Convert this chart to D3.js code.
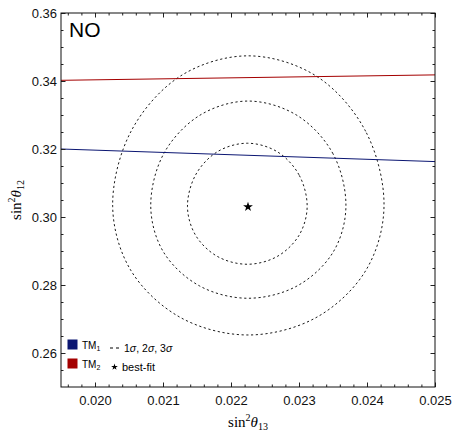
<!DOCTYPE html>
<html>
<head>
<meta charset="utf-8">
<script src="https://cdn.jsdelivr.net/npm/d3@7"></script>
<style>
  body { margin: 0; background: #fff; }
  svg { display: block; }
  .tick text { font-family: "Liberation Sans", Arial, sans-serif; font-size: 13px; fill: #111; }
</style>
</head>
<body>
<div id="chart"></div>
<script>
// axis ticks
const xTicks = [0.020, 0.021, 0.022, 0.023, 0.024, 0.025];
const yTicks = [0.26, 0.28, 0.30, 0.32, 0.34, 0.36];

// TM lines (sin2θ13, sin2θ12), read at the frame edges
const tm1 = [[0.0195, 0.3200], [0.025, 0.3163]];
const tm2 = [[0.0195, 0.3402], [0.025, 0.3418]];

// best-fit point
const bestFit = [0.02225, 0.3030];

// contour points
const sigma1 = [[0.02312, 0.3030], [0.02300, 0.3124], [0.02268, 0.3192], [0.02224, 0.3217], [0.02180, 0.3192], [0.02148, 0.3124],
                [0.02136, 0.3030], [0.02148, 0.2946], [0.02180, 0.2884], [0.02224, 0.2861], [0.02268, 0.2884], [0.02300, 0.2946]];
const sigma2 = [[0.02369, 0.3030], [0.02350, 0.3186], [0.02297, 0.3299], [0.02225, 0.3341], [0.02154, 0.3299], [0.02101, 0.3186],
                [0.02082, 0.3030], [0.02101, 0.2896], [0.02154, 0.2797], [0.02225, 0.2761], [0.02297, 0.2797], [0.02350, 0.2896]];
const sigma3 = [[0.02425, 0.3030], [0.02398, 0.3252], [0.02325, 0.3415], [0.02225, 0.3474], [0.02126, 0.3415], [0.02053, 0.3252],
                [0.02026, 0.3030], [0.02053, 0.2842], [0.02126, 0.2704], [0.02225, 0.2653], [0.02325, 0.2704], [0.02398, 0.2842]];

const width = 455, height = 432;
const margin = {top: 13, right: 20, bottom: 45, left: 61};
const blue = '#0b1672', red = '#a40000';

const svg = d3.select('#chart').append('svg')
  .attr('width', width)
  .attr('height', height);

const x = d3.scaleLinear().domain([0.0195, 0.025]).range([margin.left, width - margin.right]);
const y = d3.scaleLinear().domain([0.25, 0.36]).range([height - margin.bottom, margin.top]);

svg.append('clipPath').attr('id', 'clip')
  .append('rect')
  .attr('x', margin.left).attr('y', margin.top)
  .attr('width', width - margin.left - margin.right)
  .attr('height', height - margin.top - margin.bottom);

const plot = svg.append('g').attr('clip-path', 'url(#clip)');

// contours
const contour = d3.line().x(d => x(d[0])).y(d => y(d[1])).curve(d3.curveCatmullRomClosed.alpha(0.5));
[sigma1, sigma2, sigma3].forEach(pts => {
  plot.append('path')
    .attr('d', contour(pts))
    .attr('fill', 'none')
    .attr('stroke', '#000')
    .attr('stroke-width', 0.9)
    .attr('stroke-dasharray', '2.2,2.6');
});

// TM lines
const line = d3.line().x(d => x(d[0])).y(d => y(d[1]));
plot.append('path').attr('d', line(tm2)).attr('fill', 'none').attr('stroke', red).attr('stroke-width', 1);
plot.append('path').attr('d', line(tm1)).attr('fill', 'none').attr('stroke', blue).attr('stroke-width', 1);

// best fit star
plot.append('path')
  .attr('d', d3.symbol(d3.symbolStar, 30)())
  .attr('transform', `translate(${x(bestFit[0])},${y(bestFit[1])})`)
  .attr('fill', '#000');

// axes: major + minor ticks on all sides, pointing inwards
const xMinor = d3.range(0.0196, 0.02501, 0.0002).filter(v => !xTicks.some(t => Math.abs(t - v) < 1e-6));
const yMinor = d3.range(0.255, 0.3601, 0.005).filter(v => !yTicks.some(t => Math.abs(t - v) < 1e-6));

function drawAxis(axisFn, scale, ticks, minor, transform, labels, pad) {
  const g = svg.append('g').attr('transform', transform);
  g.call(axisFn(scale).tickValues(ticks).tickSize(-4.5).tickPadding(pad)
    .tickFormat(labels ? (axisFn === d3.axisLeft || axisFn === d3.axisRight ? d3.format('.2f') : d3.format('.3f')) : ''));
  g.select('.domain').remove();
  g.selectAll('.tick line').attr('stroke', '#222');
  const gm = svg.append('g').attr('transform', transform);
  gm.call(axisFn(scale).tickValues(minor).tickSize(-2.5).tickFormat(''));
  gm.select('.domain').remove();
  gm.selectAll('.tick line').attr('stroke', '#222');
}

drawAxis(d3.axisBottom, x, xTicks, xMinor, `translate(0,${height - margin.bottom})`, true, 9);
drawAxis(d3.axisTop, x, xTicks, xMinor, `translate(0,${margin.top})`, false, 3);
drawAxis(d3.axisLeft, y, yTicks, yMinor, `translate(${margin.left},0)`, true, 4);
drawAxis(d3.axisRight, y, yTicks, yMinor, `translate(${width - margin.right},0)`, false, 3);

// frame
svg.append('rect')
  .attr('x', margin.left).attr('y', margin.top)
  .attr('width', width - margin.left - margin.right)
  .attr('height', height - margin.top - margin.bottom)
  .attr('fill', 'none')
  .attr('stroke', '#111')
  .attr('stroke-width', 1);

// panel label
svg.append('text')
  .attr('x', 69).attr('y', 37)
  .attr('font-family', '"Liberation Sans", Arial, sans-serif')
  .attr('font-size', 21)
  .text('NO');

// axis titles
const serif = '"Liberation Serif", "Times New Roman", serif';
const xTitle = svg.append('text')
  .attr('x', 248).attr('y', 427)
  .attr('text-anchor', 'middle')
  .attr('font-family', serif)
  .attr('font-size', 15);
xTitle.append('tspan').text('sin');
xTitle.append('tspan').attr('dy', -6).attr('font-size', 10).text('2');
xTitle.append('tspan').attr('dy', 6).attr('font-style', 'italic').text('θ');
xTitle.append('tspan').attr('dy', 3).attr('font-size', 10).text('13');

const yTitle = svg.append('text')
  .attr('transform', 'translate(21,200) rotate(-90)')
  .attr('text-anchor', 'middle')
  .attr('font-family', serif)
  .attr('font-size', 15);
yTitle.append('tspan').text('sin');
yTitle.append('tspan').attr('dy', -6).attr('font-size', 10).text('2');
yTitle.append('tspan').attr('dy', 6).attr('font-style', 'italic').text('θ');
yTitle.append('tspan').attr('dy', 3).attr('font-size', 10).text('12');

// legend
const sans = '"Liberation Sans", Arial, sans-serif';
const legend = svg.append('g').attr('font-family', sans).attr('font-size', 11);
const legendItems = [['TM', '1', blue], ['TM', '2', red]];
legendItems.forEach((d, i) => {
  legend.append('rect')
    .attr('x', 67.5).attr('y', 339.5 + i * 19)
    .attr('width', 10).attr('height', 10)
    .attr('fill', d[2]);
  const t = legend.append('text').attr('x', 82).attr('y', 348.5 + i * 19).attr('font-size', 10);
  t.append('tspan').text(d[0]);
  t.append('tspan').attr('dy', 2).attr('font-size', 7).text(d[1]);
});

legend.append('line')
  .attr('x1', 110).attr('x2', 119)
  .attr('y1', 348).attr('y2', 348)
  .attr('stroke', '#000').attr('stroke-width', 1)
  .attr('stroke-dasharray', '3,3');
const sig = legend.append('text').attr('x', 124).attr('y', 351.5).attr('font-size', 10.5);
['1', '2', '3'].forEach((n, i) => {
  sig.append('tspan').text(n);
  sig.append('tspan').attr('font-style', 'italic').text('σ');
  if (i < 2) sig.append('tspan').text(', ');
});

legend.append('path')
  .attr('d', d3.symbol(d3.symbolStar, 14)())
  .attr('transform', 'translate(114.5,367)')
  .attr('fill', '#000');
legend.append('text').attr('x', 122).attr('y', 370.5).text('best-fit');
</script>
</body>
</html>
